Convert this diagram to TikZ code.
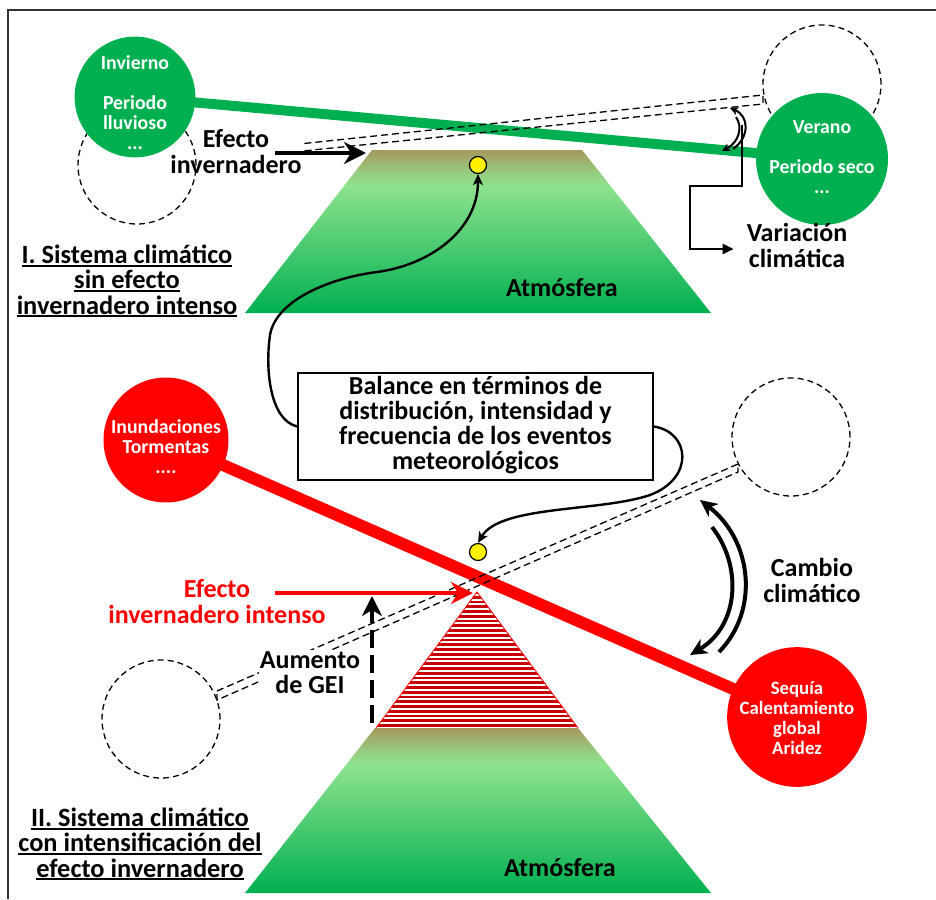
\documentclass[tikz,border=0pt]{standalone}
\usepackage{fontspec}
\setmainfont{Carlito}
\usetikzlibrary{arrows.meta}
\definecolor{cgreen}{HTML}{00B050}
\definecolor{cred}{HTML}{FF0000}
\definecolor{cdred}{HTML}{C80000}
\definecolor{cbrown}{HTML}{A6985C}
\definecolor{clight}{HTML}{8EE28E}
\definecolor{cframe}{HTML}{333333}
\pgfdeclareverticalshading{atmo}{100bp}{color(0bp)=(cgreen); color(25bp)=(cgreen); color(64bp)=(clight); color(68bp)=(clight!70!cbrown); color(75bp)=(cbrown); color(100bp)=(cbrown)}
\pgfdeclarelayer{back}\pgfdeclarelayer{mid}\pgfsetlayers{back,mid,main}
\newcommand\ctab[1]{\begin{tabular}{@{}c@{}}#1\end{tabular}}
\newcommand\myul[1]{\setbox0\hbox{#1}\rlap{\rule[-3pt]{\wd0}{1.8pt}}\box0}
\newcommand\mydown[2]{\raisebox{-#1}[\height][\depth]{#2}}
\begin{document}
\begin{tikzpicture}[x=1pt,y=-1pt,
  lbl/.style={font=\bfseries\fontsize{26}{23.3}\selectfont, inner sep=1pt},
  ttl/.style={font=\bfseries\fontsize{26.4}{22.5}\selectfont, inner sep=1pt},
  gcirc/.style={circle, fill=cgreen, minimum size=118pt, inner sep=0pt, text=white, font=\bfseries\fontsize{19.8}{20}\selectfont},
  rcirc/.style={gcirc, fill=cred},
  dcirc/.style={circle, draw, dash pattern=on 6pt off 4pt, line width=1.3pt, minimum size=118pt, inner sep=0pt},
  dbar/.style={draw, line width=1.3pt, dash pattern=on 7pt off 4pt},
  ydot/.style={circle, fill=yellow, draw, line width=1.2pt, minimum size=17pt, inner sep=0pt},
  curve/.style={line width=2.4pt, -{Stealth[length=11pt,width=10pt,inset=3pt]}},
  bigarrow/.style={line width=4pt, -{Stealth[length=22pt,width=22pt,inset=7pt]}},
  arcarrow/.style={line width=4pt, -{Stealth[length=17pt,width=16pt,inset=5pt]}},
  smallarc/.style={line width=2pt, -{Stealth[length=8pt,width=8pt,inset=2pt]}}
]
\useasboundingbox (0,0) rectangle (936,899);
\draw[cframe, line width=2pt] (8,899) -- (8,10) -- (936,10);

% atmospheres
\begin{pgfonlayer}{back}
\shade[shading=atmo] (372,150) -- (582,150) -- (711,313) -- (245,313) -- cycle;
\shade[shading=atmo] (375,728) -- (578,728) -- (711,893) -- (245,893) -- cycle;
\begin{scope}
\clip (477,592) -- (578,728) -- (376,728) -- cycle;
\fill[white] (370,590) rectangle (590,728);
\foreach \k in {0,...,28} \draw[cdred, line width=2.6pt] (370,{725.5-\k*4.75}) -- (590,{725.5-\k*4.75});
\end{scope}
\draw[cred, line width=0.8pt] (376,728) -- (477,592) -- (578,728);
\end{pgfonlayer}
\node[lbl] (atm1) at (562,288) {Atmósfera};
\node[lbl] (atm2) at (560,868) {Atmósfera};

% ---------- upper system ----------
\coordinate (b1a) at (195,155); \coordinate (b1b) at (763,95);
\coordinate (b1c) at (763,104); \coordinate (b1d) at (195,162);
\draw[dbar] (b1a) -- (b1b) -- (b1c) -- (b1d) -- cycle;
\node[lbl, fill=white, inner sep=2pt] (efi) at (236,155) {\ctab{Efecto\\invernadero}};
\node[dcirc] (invd) at (137,165) {};
\node[dcirc] (verd) at (822,84) {};
\node[gcirc] (inv) at (135,97) {\mydown{8pt}{\ctab{Invierno\\[20pt]Periodo\\lluvioso\\...}}};
\node[gcirc] (ver) at (822,159) {\ctab{Verano\\[20pt]Periodo seco\\...}};
\begin{pgfonlayer}{mid}
\draw[cgreen, line width=10pt] (inv.center) -- (ver.center);
\end{pgfonlayer}
\node[ydot] (dotA) at (478,165) {};
\coordinate (ea1) at (275,153); \coordinate (ea2) at (366,153);
\draw[bigarrow] (ea1) -- (ea2);

\node[ttl] (t1) at (127,283) {\ctab{\myul{I. Sistema climático}\\\myul{sin efecto}\\\myul{invernadero intenso}}};

% variation arrows
\coordinate (va1) at (733,149); \coordinate (va2) at (730,108);
\coordinate (vb1) at (736,117); \coordinate (vb2) at (722,151);
\draw[smallarc] (va1) .. controls (750,137) and (749,116) .. (va2);
\draw[smallarc] (vb1) .. controls (743,127) and (739,142) .. (vb2);
\node[lbl] (var) at (797,249) {\ctab{Variación\\climática}};
\coordinate (vc) at (742,125);
\draw[line width=2.5pt, -{Triangle[length=11pt,width=10pt]}] (vc) -- (742,186) -- (690,186) -- (690,186 |- var.west) -- ([xshift=-12pt]var.west);

% ---------- balance box ----------
\node[draw, line width=1.6pt, minimum width=355pt, minimum height=107pt, inner sep=0pt, fill=white, font=\bfseries\fontsize{26}{23.3}\selectfont] (bal) at (475.5,426.5) {\ctab{Balance en términos de\\distribución, intensidad y\\frecuencia de los eventos\\meteorológicos}};
\draw[curve] (bal.west) .. controls (270,420) and (265,370) .. (270,335) .. controls (276,300) and (330,278) .. (377,272) .. controls (430,265) and (478,230) .. (dotA.south);

% ---------- lower system ----------
\coordinate (b2a) at (217,691); \coordinate (b2b) at (738,464);
\coordinate (b2c) at (738,472); \coordinate (b2d) at (217,700);
\draw[dbar] (b2a) -- (b2b) -- (b2c) -- (b2d) -- cycle;
\node[dcirc] (inud) at (161,719) {};
\node[dcirc] (seqd) at (791,437) {};
\node[rcirc] (inu) at (166,440) {\mydown{9.5pt}{\ctab{Inundaciones\\Tormentas\\....}}};
\node[rcirc, font=\bfseries\fontsize{18.8}{20}\selectfont] (seq) at (797,717) {\mydown{3pt}{\ctab{Sequía\\Calentamiento\\global\\Aridez}}};
\begin{pgfonlayer}{mid}
\draw[cred, line width=12pt] (inu.center) -- (seq.center);
\end{pgfonlayer}
\node[ydot] (dotB) at (478,552) {};
\draw[curve] (bal.east) .. controls (690,432) and (695,478) .. (650,495) .. controls (600,512) and (500,505) .. (dotB.north);

\node[lbl, text=cred] (eii) at (217,605) {\ctab{Efecto\\invernadero intenso}};
\coordinate (ra1) at (275,593); \coordinate (ra2) at (473,593);
\draw[cred, bigarrow] (ra1) -- (ra2);

\node[lbl, fill=white] (aum) at (310,676) {\ctab{Aumento\\de GEI}};
\coordinate (ga1) at (372,723); \coordinate (ga2) at (372,596);
\draw[line width=4pt, dash pattern=on 18pt off 7pt, -{Stealth[length=20pt,width=20pt,inset=6pt]}] (ga1) -- (ga2);

\coordinate (ca1) at (719,652); \coordinate (ca2) at (700,500);
\coordinate (cb1) at (712,527); \coordinate (cb2) at (690,655);
\draw[arcarrow] (ca1) .. controls (760,610) and (752,540) .. (ca2);
\draw[arcarrow] (cb1) .. controls (742,565) and (740,625) .. (cb2);
\node[lbl] (cam) at (812,584) {\ctab{Cambio\\climático}};

\node[ttl] (t2) at (140,846) {\ctab{\myul{II. Sistema climático}\\\myul{con intensificación del}\\\myul{efecto invernadero}}};
\end{tikzpicture}
\end{document}
